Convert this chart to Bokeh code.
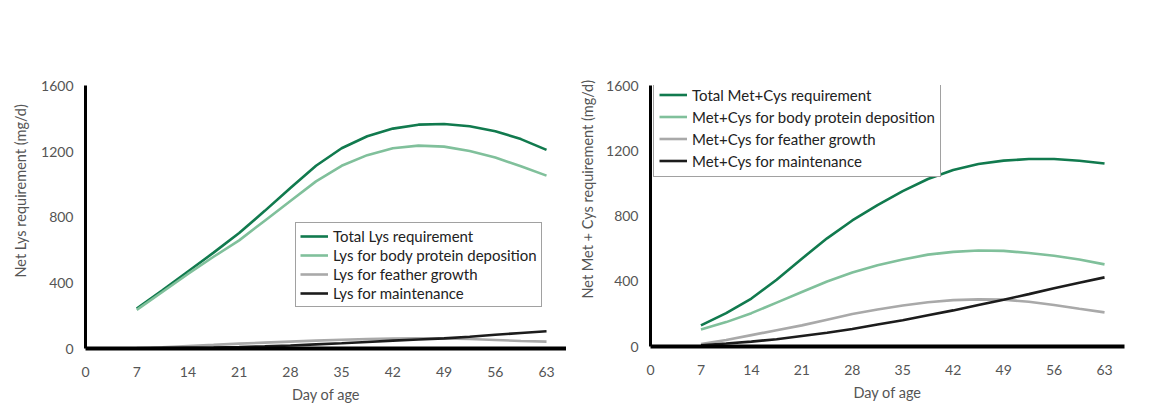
from bokeh.plotting import figure
from bokeh.layouts import row
from bokeh.models import FixedTicker, Legend, LegendItem, Range1d, Title
from bokeh.embed import file_html
from bokeh.resources import INLINE

# ---------------- data ----------------
days = [7, 10.5, 14, 17.5, 21, 24.5, 28, 31.5, 35, 38.5, 42, 45.5, 49, 52.5, 56, 59.5, 63]

lys_total = [244, 355, 470, 585, 705, 840, 980, 1115, 1222, 1295, 1342, 1366, 1370, 1356, 1326, 1278, 1212]
lys_body = [236, 345, 455, 560, 660, 780, 900, 1020, 1115, 1180, 1222, 1238, 1232, 1205, 1165, 1112, 1055]
lys_feather = [3, 8, 15, 22, 30, 36, 42, 48, 53, 57, 60, 62, 62, 58, 52, 46, 42]
lys_maint = [0, 2, 4, 6, 9, 13, 18, 25, 32, 40, 48, 55, 62, 72, 84, 95, 105]

mc_total = [130, 205, 295, 410, 540, 665, 775, 870, 955, 1030, 1085, 1122, 1143, 1153, 1153, 1142, 1125]
mc_body = [105, 150, 205, 270, 335, 400, 455, 500, 535, 565, 582, 590, 588, 575, 558, 535, 505]
mc_feather = [15, 40, 70, 100, 130, 165, 200, 228, 252, 272, 285, 290, 288, 275, 255, 232, 210]
mc_maint = [8, 18, 30, 45, 65, 85, 108, 135, 162, 192, 222, 255, 288, 322, 358, 392, 425]

x_ticks = [0, 7, 14, 21, 28, 35, 42, 49, 56, 63]
y_ticks = [0, 400, 800, 1200, 1600]

lys_labels = ["Total Lys requirement", "Lys for body protein deposition",
              "Lys for feather growth", "Lys for maintenance"]
mc_labels = ["Total Met+Cys requirement", "Met+Cys for body protein deposition",
             "Met+Cys for feather growth", "Met+Cys for maintenance"]

colors = ["#117a4e", "#80c09b", "#a9a9a9", "#1c1c1c"]
FONT = "Lato"
GRAY = "#555555"


def make_plot(series, labels, ytitle, title_offset, title_standoff, frame_w, frame_h, xend,
              border_left, border_right, legend_loc, legend_font, label_h, pad):
    p = figure(frame_width=frame_w, frame_height=frame_h,
               x_range=Range1d(0, xend), y_range=Range1d(0, 1605),
               output_backend="svg", toolbar_location=None,
               min_border_left=border_left, min_border_right=border_right,
               min_border_top=85, min_border_bottom=10)
    p.outline_line_color = None
    p.grid.visible = False
    p.background_fill_color = "white"
    p.border_fill_color = "white"

    renderers = []
    for vals, c in zip(series, colors):
        r = p.line(days, vals, line_color=c, line_width=2.6)
        renderers.append(r)

    for ax in (p.xaxis[0], p.yaxis[0]):
        ax.major_tick_in = 0
        ax.major_tick_out = 0
        ax.minor_tick_in = 0
        ax.minor_tick_out = 0
        ax.axis_line_color = "black"
        ax.major_label_text_font = FONT
        ax.major_label_text_font_size = "14px"
        ax.major_label_text_color = GRAY
        ax.axis_label_text_font = FONT
        ax.axis_label_text_font_size = "14.5px"
        ax.axis_label_text_color = GRAY
        ax.axis_label_text_font_style = "normal"

    p.xaxis.ticker = FixedTicker(ticks=x_ticks)
    p.yaxis.ticker = FixedTicker(ticks=y_ticks)
    p.xaxis.axis_line_width = 4
    p.yaxis.axis_line_width = 3
    p.xaxis.major_label_standoff = 18
    p.yaxis.major_label_standoff = 12
    p.xaxis.axis_label = "Day of age"
    p.xaxis.axis_label_standoff = 6

    t = Title(text=ytitle, align="left", offset=title_offset,
              text_font=FONT, text_font_size="14.5px", text_color=GRAY,
              text_font_style="normal", standoff=title_standoff)
    p.add_layout(t, "left")

    items = [LegendItem(label=l, renderers=[r]) for l, r in zip(labels, renderers)]
    leg = Legend(items=items, location=legend_loc,
                 label_text_font=FONT, label_text_font_size=legend_font,
                 label_text_color="#222222",
                 border_line_color="#444444", border_line_width=1.5,
                 background_fill_color="white", background_fill_alpha=1,
                 glyph_width=28, glyph_height=label_h, label_height=label_h,
                 label_standoff=5, spacing=1, padding=pad, margin=0)
    p.add_layout(leg, "center")
    return p


p1 = make_plot([lys_total, lys_body, lys_feather, lys_maint], lys_labels,
               "Net Lys requirement (mg/d)", 71, 19, 481, 263, 65.73, 84, 0,
               (210, 41), "15px", 18, 4)
p2 = make_plot([mc_total, mc_body, mc_feather, mc_maint], mc_labels,
               "Net Met + Cys requirement (mg/d)", 48, 16, 474, 261, 65.77, 84, 30,
               (3, 169), "15px", 21, 5)

layout = row(p1, p2)
open("out.html", "w").write(file_html(layout, INLINE))
